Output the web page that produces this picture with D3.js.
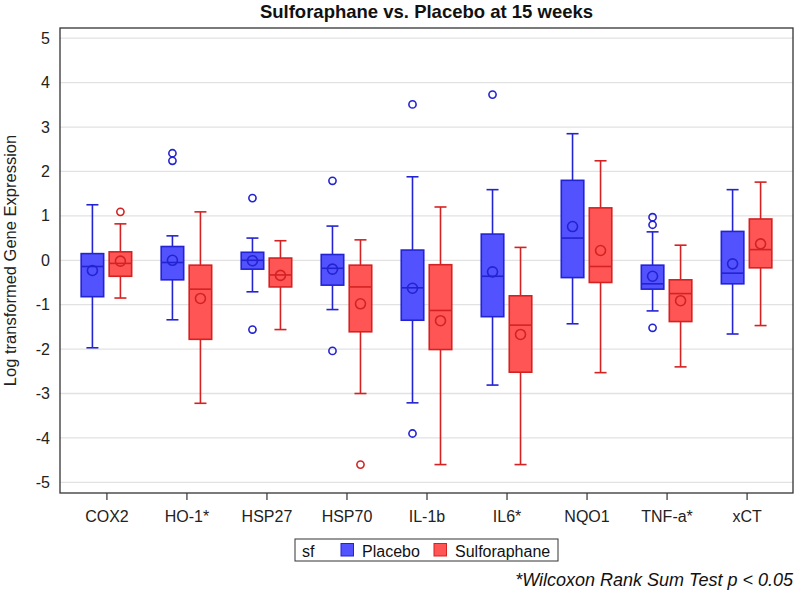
<!DOCTYPE html>
<html><head><meta charset="utf-8">
<script src="https://cdn.jsdelivr.net/npm/d3@7"></script>
<style>body{margin:0;background:#fff}svg{display:block}text{font-family:"Liberation Sans",Arial,sans-serif}</style>
</head><body>
<svg id="chart" width="796" height="591"></svg>
<script>
const categories = ["COX2","HO-1*","HSP27","HSP70","IL-1b","IL6*","NQO1","TNF-a*","xCT"];
const groups = ["Placebo","Sulforaphane"];
const yTicks = [-5,-4,-3,-2,-1,0,1,2,3,4,5];
// [whiskerLow, q1, median, q3, whiskerHigh, mean]
const placeboStats = [
  [-1.97,-0.82,-0.14,0.15,1.25,-0.23],
  [-1.34,-0.44,-0.05,0.31,0.55,0.00],
  [-0.71,-0.20,0.00,0.18,0.50,-0.01],
  [-1.11,-0.56,-0.18,0.13,0.77,-0.20],
  [-3.21,-1.35,-0.62,0.23,1.88,-0.63],
  [-2.81,-1.27,-0.36,0.59,1.59,-0.26],
  [-1.43,-0.39,0.50,1.80,2.85,0.76],
  [-1.14,-0.65,-0.53,-0.11,0.64,-0.36],
  [-1.66,-0.53,-0.29,0.65,1.59,-0.08]
];
const sulforaphaneStats = [
  [-0.85,-0.36,-0.07,0.19,0.82,-0.02],
  [-3.22,-1.78,-0.65,-0.11,1.09,-0.86],
  [-1.56,-0.60,-0.33,0.05,0.44,-0.34],
  [-3.00,-1.61,-0.60,-0.11,0.46,-0.98],
  [-4.60,-2.01,-1.13,-0.10,1.20,-1.36],
  [-4.60,-2.52,-1.46,-0.80,0.29,-1.67],
  [-2.53,-0.50,-0.14,1.18,2.24,0.22],
  [-2.40,-1.38,-0.75,-0.44,0.34,-0.91],
  [-1.47,-0.17,0.24,0.93,1.76,0.37]
];
const placeboOutliers = [[],[2.41,2.24],[1.40,-1.56],[1.79,-2.04],[3.51,-3.90],[3.73],[],[0.97,0.80,-1.52],[]];
const sulforaphaneOutliers = [[1.09],[],[],[-4.60],[],[],[],[],[]];

const fills = ["#5252ff","#ff5555"];
const strokes = ["#2323d2","#d42222"];
const FONT = "'Liberation Sans',Arial,sans-serif";

const svg = d3.select("#chart");
const L = 60, R = 793, T = 28, B = 493;
const y = d3.scaleLinear().domain([-5.24,5.23]).range([B,T]);
const x = d3.scalePoint().domain(categories).range([L,R]).padding(0.58);
const off = d3.scaleBand().domain(groups).range([-28,28]).paddingInner(0);

// gridlines
svg.append("g").selectAll("line").data(yTicks).join("line")
  .attr("x1",L).attr("x2",R).attr("y1",d=>y(d)).attr("y2",d=>y(d))
  .attr("stroke","#e2e2e2").attr("stroke-width",1.3);

// title
svg.append("text").attr("x",(L+R)/2).attr("y",18).attr("text-anchor","middle")
  .attr("font-size",18.5).attr("font-weight","bold").attr("fill","#111")
  .text("Sulforaphane vs. Placebo at 15 weeks");

// axes
const yAxis = svg.append("g").attr("transform",`translate(${L},0)`)
  .call(d3.axisLeft(y).tickValues(yTicks).tickSize(0).tickPadding(10).tickFormat(d=>String(d)));
yAxis.select(".domain").remove();
yAxis.selectAll("text").attr("font-size",16).attr("fill","#222").style("font-family",FONT);

const xAxis = svg.append("g").attr("transform",`translate(0,${B})`)
  .call(d3.axisBottom(x).tickSize(7).tickPadding(11));
xAxis.select(".domain").remove();
xAxis.selectAll("line").attr("stroke","#333").attr("stroke-width",1.2);
xAxis.selectAll("text").attr("font-size",16).attr("fill","#222").style("font-family",FONT);

svg.append("text").attr("transform",`translate(16,${(T+B)/2}) rotate(-90)`)
  .attr("text-anchor","middle").attr("font-size",16.5).attr("fill","#222")
  .text("Log transformed Gene Expression");

// boxes
const bw = 22.5, cap = 12;
const series = [placeboStats, sulforaphaneStats];
const outs = [placeboOutliers, sulforaphaneOutliers];
groups.forEach((g,gi)=>{
  const gg = svg.append("g");
  series[gi].forEach((s,i)=>{
    const cx = x(categories[i]) + off(g) + off.bandwidth()/2;
    const [lo,q1,med,q3,hi,mean] = s;
    const b = gg.append("g").attr("stroke",strokes[gi]).attr("stroke-width",1.6);
    b.append("line").attr("x1",cx).attr("x2",cx).attr("y1",y(hi)).attr("y2",y(q3));
    b.append("line").attr("x1",cx).attr("x2",cx).attr("y1",y(q1)).attr("y2",y(lo));
    b.append("line").attr("x1",cx-cap/2).attr("x2",cx+cap/2).attr("y1",y(hi)).attr("y2",y(hi));
    b.append("line").attr("x1",cx-cap/2).attr("x2",cx+cap/2).attr("y1",y(lo)).attr("y2",y(lo));
    b.append("rect").attr("x",cx-bw/2).attr("width",bw).attr("y",y(q3)).attr("height",y(q1)-y(q3))
      .attr("fill",fills[gi]);
    b.append("line").attr("x1",cx-bw/2).attr("x2",cx+bw/2).attr("y1",y(med)).attr("y2",y(med));
    b.append("circle").attr("cx",cx).attr("cy",y(mean)).attr("r",5).attr("fill","none");
    outs[gi][i].forEach(o=>{
      b.append("circle").attr("cx",cx).attr("cy",y(o)).attr("r",3.6).attr("fill","none");
    });
  });
});

// frame
svg.append("rect").attr("x",L).attr("y",T).attr("width",R-L).attr("height",B-T)
  .attr("fill","none").attr("stroke","#333").attr("stroke-width",1.3);

// legend
const lg = svg.append("g");
lg.append("rect").attr("x",295).attr("y",539).attr("width",263).attr("height",22)
  .attr("fill","#fff").attr("stroke","#333").attr("stroke-width",1);
lg.append("text").attr("x",302).attr("y",556.5).attr("font-size",16).attr("fill","#111").text("sf");
const lx = [341, 434];
groups.forEach((g,gi)=>{
  lg.append("rect").attr("x",lx[gi]).attr("y",543.5).attr("width",12.5).attr("height",12.5)
    .attr("fill",fills[gi]).attr("stroke",strokes[gi]).attr("stroke-width",1);
  lg.append("text").attr("x",lx[gi]+21).attr("y",556.5).attr("font-size",16).attr("fill","#111").text(g);
});

svg.append("text").attr("x",793).attr("y",586).attr("text-anchor","end")
  .attr("font-size",18).attr("font-style","italic").attr("fill","#111")
  .text("*Wilcoxon Rank Sum Test p < 0.05");
</script>
</body></html>
